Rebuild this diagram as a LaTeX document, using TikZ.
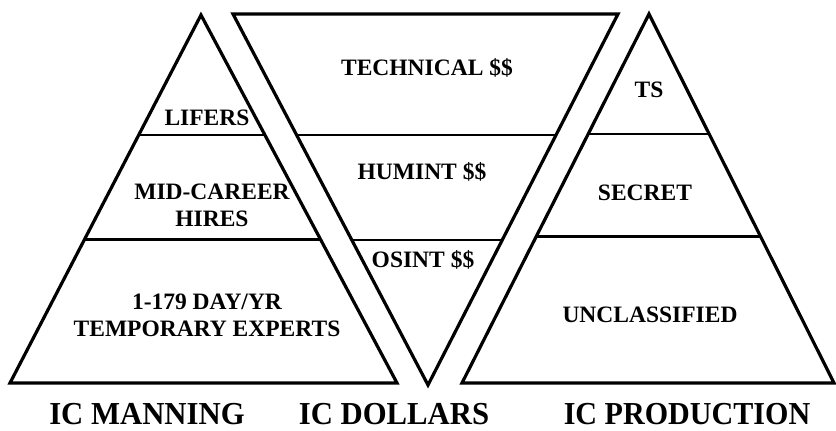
\documentclass[tikz,border=0pt]{standalone}
\usepackage{fontspec}
\setmainfont{Liberation Serif}
\usetikzlibrary{calc}
\begin{document}
\begin{tikzpicture}[x=1pt,y=-1pt,
  outline/.style={line width=3.2pt,line join=miter},
  divider/.style={line width=2.8pt},
  lbl/.style={font=\fontsize{23.5}{27}\selectfont\bfseries,align=center,inner sep=0pt},
  title/.style={font=\fontsize{32}{35}\selectfont\bfseries,inner sep=0pt,anchor=base}]
\useasboundingbox (0,0) rectangle (836,431);
% left triangle
\coordinate (la) at (201,15);
\coordinate (lbl) at (10,383);
\coordinate (lbr) at (397,383);
\draw[outline] (la) -- (lbl) -- (lbr) -- cycle;
\draw[divider] ($(la)!0.326!(lbl)$) -- ($(la)!0.326!(lbr)$);
\draw[divider] ($(la)!0.611!(lbl)$) -- ($(la)!0.611!(lbr)$);
% middle inverted triangle
\coordinate (mtl) at (233,14);
\coordinate (mtr) at (618,14);
\coordinate (mb) at (428,385);
\draw[outline] (mtl) -- (mtr) -- (mb) -- cycle;
\draw[divider] ($(mtl)!0.326!(mb)$) -- ($(mtr)!0.326!(mb)$);
\draw[divider] ($(mtl)!0.609!(mb)$) -- ($(mtr)!0.609!(mb)$);
% right triangle
\coordinate (ra) at (649,14);
\coordinate (rbl) at (462,383);
\coordinate (rbr) at (834,383);
\draw[outline] (ra) -- (rbl) -- (rbr) -- cycle;
\draw[divider] ($(ra)!0.325!(rbl)$) -- ($(ra)!0.325!(rbr)$);
\draw[divider] ($(ra)!0.604!(rbl)$) -- ($(ra)!0.604!(rbr)$);
% labels left
\node[lbl] (lifers) at (207,118) {LIFERS};
\node[lbl] (mid) at (212,205) {MID-CAREER\\HIRES};
\node[lbl] (temp) at (207,315) {1-179 DAY/YR\\TEMPORARY EXPERTS};
% labels middle
\node[lbl] (tech) at (427,68) {TECHNICAL \$\$};
\node[lbl] (humint) at (422,172) {HUMINT \$\$};
\node[lbl] (osint) at (423,260) {OSINT \$\$};
% labels right
\node[lbl] (ts) at (649,90) {TS};
\node[lbl] (secret) at (645,193) {SECRET};
\node[lbl] (unclass) at (650,315) {UNCLASSIFIED};
% titles
\node[title] (t1) at (147,424) {\scalebox{0.96}[1]{IC MANNING}};
\node[title] (t2) at (394,424) {\scalebox{0.96}[1]{IC DOLLARS}};
\node[title] (t3) at (687,424) {\scalebox{0.94}[1]{IC PRODUCTION}};
\end{tikzpicture}
\end{document}
